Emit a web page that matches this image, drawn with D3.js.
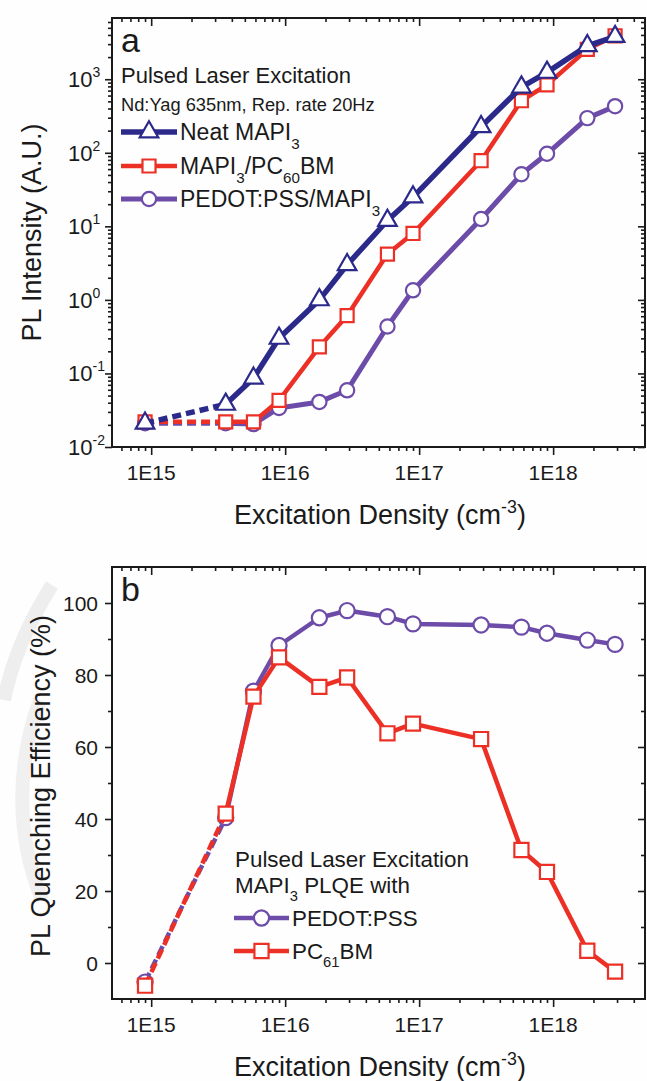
<!DOCTYPE html>
<html><head><meta charset="utf-8">
<script src="https://cdn.jsdelivr.net/npm/d3@7"></script>
<style>body{margin:0;background:#fff;} svg{display:block;font-family:"Liberation Sans",Arial,sans-serif;}</style>
</head><body><svg id="c" width="647" height="1081"></svg>
<script>
// ---- data ----
const density = [9e14, 3.6e15, 5.8e15, 9e15, 1.8e16, 2.9e16, 5.8e16, 9e16, 2.9e17, 5.8e17, 9e17, 1.8e18, 2.9e18];
const plNeat  = [0.021, 0.038, 0.086, 0.30, 1.0, 3.0, 12, 25, 226, 780, 1240, 2850, 3800];
const plPC60  = [0.022, 0.022, 0.022, 0.043, 0.23, 0.61, 4.2, 8.0, 78, 510, 840, 2550, 3900];
const plPEDOT = [0.021, 0.021, 0.0205, 0.034, 0.041, 0.059, 0.435, 1.35, 12.6, 51, 97, 296, 430];
const qePEDOT = [-5.3, 40.4, 75.5, 88.2, 95.9, 97.9, 96.2, 94.2, 93.9, 93.3, 91.6, 89.7, 88.5];
const qePC61  = [-6.3, 41.5, 74.0, 84.9, 76.7, 79.3, 63.8, 66.5, 62.2, 31.4, 25.3, 3.4, -2.4];
const xTicks = [1e15, 1e16, 1e17, 1e18];
const xTickLabels = ["1E15", "1E16", "1E17", "1E18"];
const yTicksA = [1e-2, 1e-1, 1, 10, 100, 1000];
const yTickExpA = ["-2", "-1", "0", "1", "2", "3"];
const yTicksB = [0, 20, 40, 60, 80, 100];
const yMinorB = [10, 30, 50, 70, 90];

const NAVY = "#2b2a8a", RED = "#ec3026", PURPLE = "#6c4ca8", INK = "#1a1a1a";

const svg = d3.select("#c");
svg.append("rect").attr("width", 647).attr("height", 1081).attr("fill", "#fefefe");
// faint watermark strokes at left of panel b
svg.append("path").attr("d", "M52,585 C30,620 12,660 4,700").attr("fill", "none").attr("stroke", "#eeeeee").attr("stroke-width", 14);
svg.append("path").attr("d", "M40,700 C18,760 14,830 42,900").attr("fill", "none").attr("stroke", "#f0f0f0").attr("stroke-width", 14);

const L = 112, R = 645;
const A = {top: 18, bottom: 447};
const B = {top: 567, bottom: 999};

const x = d3.scaleLog().domain([5.1e14, 4.85e18]).range([L, R]);
const yA = d3.scaleLog().domain([0.01, 6800]).range([A.bottom, A.top]);
const yB = d3.scaleLinear().domain([-10, 110]).range([B.bottom, B.top]);

function logMinors(lo, hi) {
  const out = [];
  for (let d = Math.floor(Math.log10(lo)); d <= Math.ceil(Math.log10(hi)); d++)
    for (let k = 2; k <= 9; k++) { const v = k * Math.pow(10, d); if (v >= lo && v <= hi) out.push(v); }
  return out;
}
const xMinor = logMinors(5.1e14, 4.85e18);
const yMinorA = logMinors(0.01, 6800);

function rich(g, px, py, parts, fs, anchor) {
  const t = g.append("text").attr("x", px).attr("y", py).attr("font-size", fs)
    .attr("fill", INK).attr("text-anchor", anchor || "start");
  let shift = 0;
  parts.forEach(([s, k]) => {
    const target = k === "sub" ? fs * 0.36 : k === "sup" ? -fs * 0.42 : 0;
    const sp = t.append("tspan").text(s).attr("dy", target - shift);
    if (k !== "n") sp.attr("font-size", fs * 0.66);
    shift = target;
  });
  return t;
}

function styleAxis(g) {
  g.select(".domain").remove();
  g.selectAll("line").attr("stroke", INK).attr("stroke-width", 1.6);
}

function frame(P, y, majY, minY) {
  const g = svg.append("g");
  g.append("g").attr("transform", `translate(0,${P.bottom})`).call(d3.axisBottom(x).tickValues(xTicks).tickSize(8).tickFormat("")).call(styleAxis);
  g.append("g").attr("transform", `translate(0,${P.bottom})`).call(d3.axisBottom(x).tickValues(xMinor).tickSize(4).tickFormat("")).call(styleAxis);
  g.append("g").attr("transform", `translate(0,${P.top})`).call(d3.axisTop(x).tickValues(xTicks).tickSize(-8).tickFormat("")).call(styleAxis);
  g.append("g").attr("transform", `translate(0,${P.top})`).call(d3.axisTop(x).tickValues(xMinor).tickSize(-4).tickFormat("")).call(styleAxis);
  g.append("g").attr("transform", `translate(${L},0)`).call(d3.axisLeft(y).tickValues(majY).tickSize(7).tickFormat("")).call(styleAxis);
  g.append("g").attr("transform", `translate(${L},0)`).call(d3.axisLeft(y).tickValues(minY).tickSize(4).tickFormat("")).call(styleAxis);
  g.append("g").attr("transform", `translate(${R},0)`).call(d3.axisRight(y).tickValues(majY).tickSize(-7).tickFormat("")).call(styleAxis);
  g.append("g").attr("transform", `translate(${R},0)`).call(d3.axisRight(y).tickValues(minY).tickSize(-4).tickFormat("")).call(styleAxis);
  g.append("rect").attr("x", L).attr("y", P.top).attr("width", R - L).attr("height", P.bottom - P.top)
    .attr("fill", "none").attr("stroke", INK).attr("stroke-width", 2);
  xTicks.forEach((v, i) => {
    g.append("text").attr("x", x(v)).attr("y", P.bottom + 33).attr("text-anchor", "middle")
      .attr("font-size", 21).attr("fill", INK).text(xTickLabels[i]);
  });
  rich(g, 380, P.bottom + 77, [["Excitation Density (cm", "n"], ["-3", "sup"], [")", "n"]], 27, "middle");
}

function marker(g, type, cx, cy, color, size) {
  const sym = type === "tri" ? d3.symbolTriangle : type === "sq" ? d3.symbolSquare : d3.symbolCircle;
  g.append("path").attr("d", d3.symbol().type(sym).size(size)())
    .attr("transform", `translate(${cx},${cy})`)
    .attr("fill", "#fff").attr("stroke", color).attr("stroke-width", 2.2);
}

function series(g, ys, y, color, lw, type, size, dash) {
  const pts = density.map((d, i) => [x(d), y(ys[i])]);
  const line = d3.line();
  g.append("path").attr("d", line(pts.slice(0, 2))).attr("fill", "none").attr("stroke", color)
    .attr("stroke-width", lw).attr("stroke-dasharray", dash);
  g.append("path").attr("d", line(pts.slice(1))).attr("fill", "none").attr("stroke", color)
    .attr("stroke-width", lw).attr("stroke-linejoin", "round");
  pts.forEach(p => marker(g, type, p[0], p[1], color, size));
}

function legendRow(g, cy, x0, x1, color, lw, type, size, parts, fs) {
  g.append("line").attr("x1", x0).attr("x2", x1).attr("y1", cy).attr("y2", cy)
    .attr("stroke", color).attr("stroke-width", lw);
  marker(g, type, (x0 + x1) / 2, cy, color, size);
  rich(g, x1 + 3, cy + fs * 0.36, parts, fs);
}

// ---------- Panel a ----------
frame(A, yA, yTicksA, yMinorA);
yTicksA.forEach((v, i) => {
  const t = svg.append("text").attr("x", 68).attr("y", yA(v) + 8).attr("font-size", 22).attr("fill", INK);
  t.append("tspan").text("10");
  t.append("tspan").text(yTickExpA[i]).attr("font-size", 14).attr("dy", -10);
});
svg.append("text").attr("transform", `translate(41,${(A.top + A.bottom) / 2}) rotate(-90)`)
  .attr("text-anchor", "middle").attr("font-size", 27).attr("fill", INK).text("PL Intensity (A.U.)");

const gA = svg.append("g");
series(gA, plPEDOT, yA, PURPLE, 5, "circ", 160, "9,5");
series(gA, plPC60, yA, RED, 4.5, "sq", 170, "9,5");
series(gA, plNeat, yA, NAVY, 5.5, "tri", 150, "9,5");

svg.append("text").attr("x", 121).attr("y", 52).attr("font-size", 34).attr("fill", INK).text("a");
svg.append("text").attr("x", 121).attr("y", 83).attr("font-size", 22).attr("fill", INK).text("Pulsed Laser Excitation");
svg.append("text").attr("x", 121).attr("y", 111).attr("font-size", 18.3).attr("fill", INK).text("Nd:Yag 635nm, Rep. rate 20Hz");
const lgA = svg.append("g");
legendRow(lgA, 132, 121, 177, NAVY, 5.5, "tri", 150, [["Neat MAPI", "n"], ["3", "sub"]], 23);
legendRow(lgA, 166, 121, 177, RED, 4.5, "sq", 170, [["MAPI", "n"], ["3", "sub"], ["/PC", "n"], ["60", "sub"], ["BM", "n"]], 23);
legendRow(lgA, 199, 121, 177, PURPLE, 5, "circ", 160, [["PEDOT:PSS/MAPI", "n"], ["3", "sub"]], 23);

// ---------- Panel b ----------
frame(B, yB, yTicksB, yMinorB);
yTicksB.forEach(v => {
  svg.append("text").attr("x", 98).attr("y", yB(v) + 7.5).attr("text-anchor", "end")
    .attr("font-size", 21).attr("fill", INK).text(v);
});
svg.append("text").attr("transform", `translate(50,786) rotate(-90)`)
  .attr("text-anchor", "middle").attr("font-size", 27).attr("fill", INK).text("PL Quenching Efficiency (%)");

const gB = svg.append("g");
series(gB, qePEDOT, yB, PURPLE, 4.5, "circ", 180, "10,5");
series(gB, qePC61, yB, RED, 4.5, "sq", 200, "10,5");

svg.append("text").attr("x", 121).attr("y", 601).attr("font-size", 34).attr("fill", INK).text("b");
svg.append("text").attr("x", 235).attr("y", 867).attr("font-size", 22.4).attr("fill", INK).text("Pulsed Laser Excitation");
rich(svg, 235, 893, [["MAPI", "n"], ["3", "sub"], [" PLQE with", "n"]], 22.4);
const lgB = svg.append("g");
legendRow(lgB, 918, 234, 289, PURPLE, 4.5, "circ", 180, [["PEDOT:PSS", "n"]], 22.4);
legendRow(lgB, 951, 234, 289, RED, 4.5, "sq", 200, [["PC", "n"], ["61", "sub"], ["BM", "n"]], 22.4);
</script></body></html>
